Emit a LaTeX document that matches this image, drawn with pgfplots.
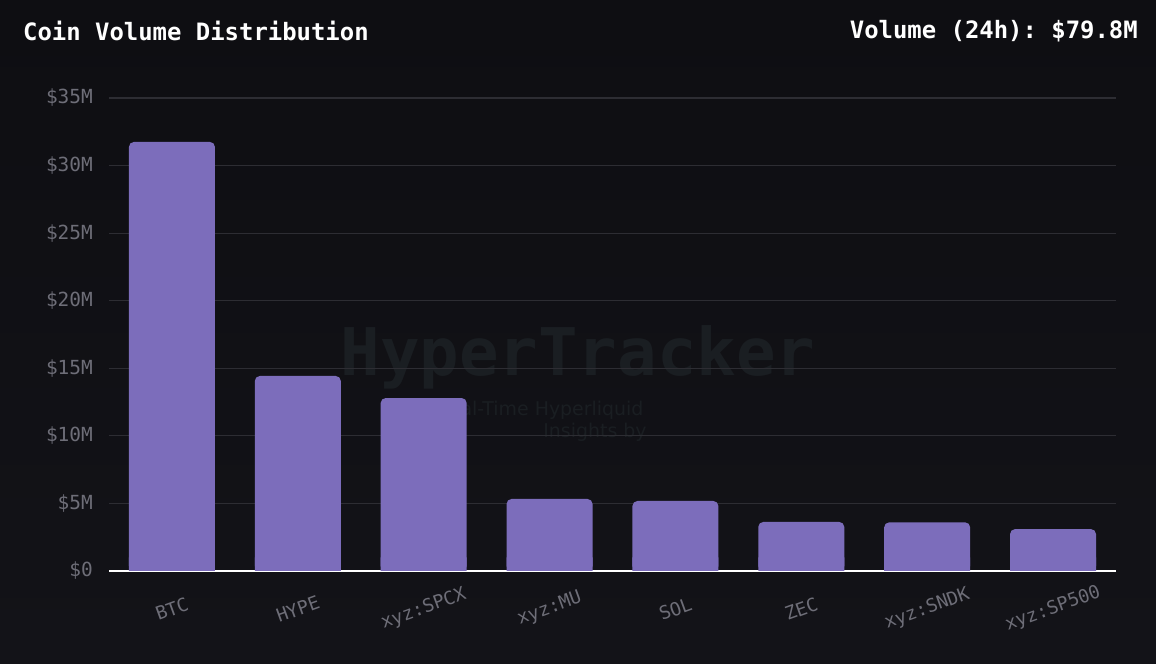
\documentclass[border=0pt]{standalone}
\usepackage{pgfplots}
\pgfplotsset{compat=1.18}
\usepackage{fontspec}
\setmainfont{DejaVu Sans}
\newfontfamily\monofont{DejaVu Sans Mono}
\newfontfamily\sansfont{DejaVu Sans}
\definecolor{bgtop}{HTML}{0E0E12}
\definecolor{bgbot}{HTML}{131318}
\definecolor{barc}{HTML}{7C6DBB}
\definecolor{gridc}{HTML}{2D2D33}
\definecolor{tickc}{HTML}{6E6E78}
\definecolor{wmc}{HTML}{1A1E22}
\begin{document}
\begin{tikzpicture}
\shade[top color=bgtop, bottom color=bgbot] (0bp,0bp) rectangle (1156bp,664bp);
\useasboundingbox (0bp,0bp) rectangle (1156bp,664bp);
% watermark
\node[text=wmc, font=\monofont\bfseries\fontsize{66}{66}\selectfont, inner sep=0] at (578bp,307bp) {HyperTracker};
\node[text=wmc, font=\sansfont\fontsize{19}{19}\selectfont, inner sep=0] at (540bp,254bp) {Real-Time Hyperliquid};
\node[text=wmc, font=\sansfont\fontsize{19}{19}\selectfont, inner sep=0] at (595bp,232bp) {Insights by};
% titles
\node[anchor=west, text=white, font=\monofont\bfseries\fontsize{24}{24}\selectfont\frenchspacing, inner sep=0] at (23bp,633bp) {Coin Volume Distribution};
\node[anchor=east, text=white, font=\monofont\bfseries\fontsize{24}{24}\selectfont\frenchspacing, inner sep=0] at (1138bp,633bp) {Volume (24h): \$79.8M};
\begin{axis}[
  at={(109bp,93bp)}, anchor=south west,
  scale only axis, width=1007bp, height=473bp,
  xmin=-0.5, xmax=7.5, ymin=0, ymax=35,
  ybar, bar width=86bp, bar shift=0pt,
  axis x line*=bottom,
  axis y line*=left,
  x axis line style={draw=white, line width=2bp, -},
  y axis line style={draw=none},
  ymajorgrids, grid style={gridc, line width=1.2bp},
  major tick length=0pt,
  xtick=data,
  xticklabels={BTC,HYPE,xyz:SPCX,xyz:MU,SOL,ZEC,xyz:SNDK,xyz:SP500},
  xticklabel style={yshift=-38bp, rotate=20, anchor=center, text=tickc, font=\monofont\fontsize{18.5}{18.5}\selectfont},
  ytick={0,5,10,15,20,25,30,35},
  yticklabels={\$0,\$5M,\$10M,\$15M,\$20M,\$25M,\$30M,\$35M},
  yticklabel style={anchor=east, inner sep=0pt, xshift=-16bp, text=tickc, font=\monofont\fontsize{19.5}{19.5}\selectfont},
  /pgf/number format/assume math mode=true,
  clip=false,
]
\addplot[fill=barc, draw=none, rounded corners=5bp] coordinates {
  (0,31.75) (1,14.43) (2,12.8) (3,5.33) (4,5.18) (5,3.63) (6,3.6) (7,3.1)
};
% square-off the bottom corners of the bars
\addplot[fill=barc, draw=none, forget plot] coordinates {
  (0,1) (1,1) (2,1) (3,1) (4,1) (5,1) (6,1) (7,1)
};
\end{axis}
\end{tikzpicture}
\end{document}
